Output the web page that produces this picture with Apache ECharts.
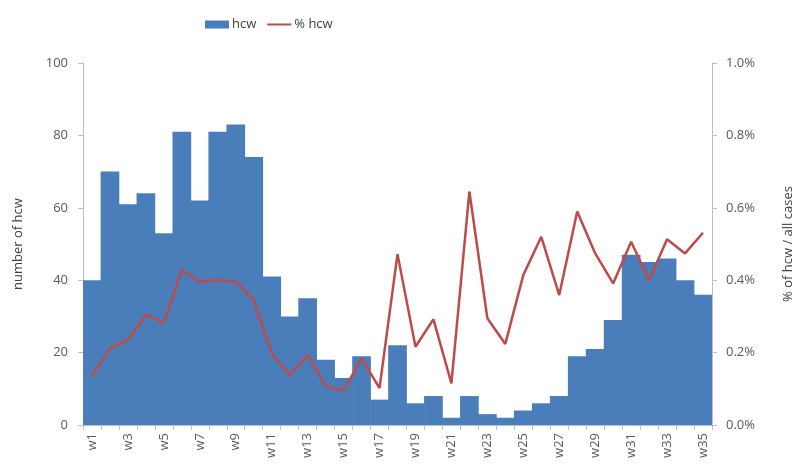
<!DOCTYPE html>
<html><head><meta charset="utf-8">
<script src="https://cdn.jsdelivr.net/npm/echarts@6/dist/echarts.min.js"></script>
<style>html,body{margin:0;padding:0;background:#fff}#c{width:808px;height:476px}</style>
</head><body><div id="c"></div>
<script>
var weeks = ['w1','w2','w3','w4','w5','w6','w7','w8','w9','w10','w11','w12','w13','w14','w15','w16','w17','w18','w19','w20','w21','w22','w23','w24','w25','w26','w27','w28','w29','w30','w31','w32','w33','w34','w35'];
var hcw = [40,70,61,64,53,81,62,81,83,74,41,30,35,18,13,19,7,22,6,8,2,8,3,2,4,6,8,19,21,29,47,45,46,40,36];
var pctHcw = [0.135,0.212,0.235,0.304,0.283,0.428,0.396,0.40,0.396,0.345,0.198,0.138,0.193,0.108,0.095,0.184,0.102,0.472,0.216,0.292,0.115,0.645,0.295,0.224,0.414,0.52,0.359,0.59,0.474,0.391,0.506,0.40,0.513,0.474,0.531];
var leftTicks = {min:0,max:100,interval:20};
var rightTicks = {min:0,max:1.0,interval:0.2};

var chart = echarts.init(document.getElementById('c'), null, {renderer:'canvas'});
var txt = '#595959', fam = '"Open Sans", Calibri, "Liberation Sans", sans-serif';
chart.setOption({
  animation:false,
  legend:{
    left:200, top:13, itemWidth:24, itemHeight:8, itemGap:10,
    textStyle:{color:'#404040', fontSize:13, fontFamily:fam, padding:[0,0,0,-2]},
    data:[{name:'hcw', icon:'rect'},{name:'% hcw', itemStyle:{opacity:0}}]
  },
  grid:{left:83, right:96, top:63, bottom:51},
  xAxis:{
    type:'category', data:weeks, boundaryGap:true,
    axisLine:{lineStyle:{color:'#bfbfbf'}},
    axisTick:{show:true, interval:0, length:5, lineStyle:{color:'#bfbfbf'}},
    axisLabel:{interval:1, rotate:90, color:txt, fontSize:13, fontFamily:fam, margin:8}
  },
  yAxis:[{
    type:'value', min:leftTicks.min, max:leftTicks.max, interval:leftTicks.interval,
    name:'number of hcw', nameLocation:'middle', nameGap:58, nameRotate:90,
    nameTextStyle:{color:'#404040', fontSize:13, fontFamily:fam},
    axisLine:{show:true, lineStyle:{color:'#bfbfbf'}},
    axisTick:{show:true, length:5, lineStyle:{color:'#bfbfbf'}},
    splitLine:{show:false},
    axisLabel:{color:txt, fontSize:13, fontFamily:fam, margin:15}
  },{
    type:'value', min:rightTicks.min, max:rightTicks.max, interval:rightTicks.interval, position:'right',
    name:'% of hcw / all cases', nameLocation:'middle', nameGap:70, nameRotate:90,
    nameTextStyle:{color:'#404040', fontSize:13, fontFamily:fam},
    axisLine:{show:true, lineStyle:{color:'#bfbfbf'}},
    axisTick:{show:true, length:5, lineStyle:{color:'#bfbfbf'}},
    splitLine:{show:false},
    axisLabel:{color:txt, fontSize:13, fontFamily:fam, margin:14, formatter:function(v){return v.toFixed(1)+'%';}}
  }],
  series:[{
    name:'hcw', type:'bar', data:hcw, yAxisIndex:0, barWidth:'104%',
    itemStyle:{color:'#4a7ebb'}
  },{
    name:'% hcw', type:'line', data:pctHcw, yAxisIndex:1, symbol:'none',
    lineStyle:{color:'#be4b48', width:2.5}, itemStyle:{color:'#be4b48'}
  }]
});
</script></body></html>
